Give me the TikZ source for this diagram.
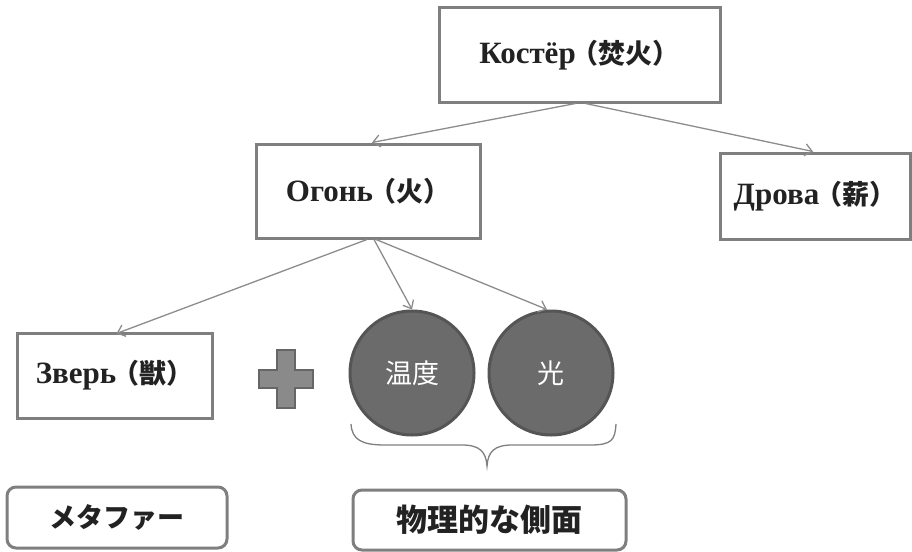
\documentclass[tikz,border=0pt]{standalone}
\usepackage{fontspec}
\setmainfont{Liberation Serif}
\newfontfamily\cjk{Noto Sans CJK JP}
\usetikzlibrary{arrows.meta}
\definecolor{boxgray}{HTML}{7F7F7F}
\definecolor{arrgray}{HTML}{8C8C8C}
\definecolor{circfill}{HTML}{6B6B6B}
\definecolor{circline}{HTML}{555555}
\definecolor{plusfill}{HTML}{8A8A8A}
\definecolor{txt}{HTML}{222222}
\newcommand{\cjkpart}[1]{{\fontsize{27}{30}\selectfont\cjk\bfseries #1}}
\tikzset{
  sqbox/.style={draw=boxgray, line width=3pt, fill=white, rectangle, inner sep=0pt,
    font=\fontsize{31}{34}\selectfont\bfseries, text=txt},
  rdbox/.style={draw=boxgray, line width=3pt, fill=white, rectangle, rounded corners=9pt, inner sep=0pt,
    font=\fontsize{29}{32}\selectfont\cjk\bfseries, text=txt},
  disc/.style={circle, draw=circline, line width=3pt, fill=circfill, minimum size=124pt, inner sep=0pt,
    text=white, font=\fontsize{27}{30}\selectfont\cjk},
  conn/.style={draw=arrgray, line width=1.3pt, -{Straight Barb[length=7pt,width=12pt,line width=1.3pt]}},
}
\begin{document}
\begin{tikzpicture}[x=1pt,y=-1pt]
\useasboundingbox (0,0) rectangle (912,551);
\node[sqbox, minimum width=281pt, minimum height=94pt] (kost) at (579.5,55) {Костёр\hspace{-4pt}\cjkpart{（焚火）}};
\node[sqbox, minimum width=224pt, minimum height=94pt] (ogon) at (368,191) {Огонь\hspace{-4pt}\cjkpart{（火）}};
\node[sqbox, minimum width=190pt, minimum height=86pt] (drova) at (815,196) {Дрова\hspace{-4pt}\cjkpart{（薪）}};
\node[sqbox, minimum width=195pt, minimum height=85pt] (zver) at (114.5,375.5) {Зверь\hspace{-4pt}\cjkpart{（獣）}};
\node[disc] (c1) at (412,373) {温度};
\node[disc] (c2) at (551,373) {光};
\node[rdbox, minimum width=220pt, minimum height=61pt, font=\fontsize{27}{30}\selectfont\cjk\bfseries] (meta) at (117,517.5) {メタファー};
\node[rdbox, minimum width=273pt, minimum height=60pt, font=\fontsize{31}{34}\selectfont\cjk\bfseries] (phys) at (489.5,520) {物理的な側面};
% plus sign
\coordinate (plus) at (286,379);
\filldraw[fill=plusfill, draw=boxgray!80!black, line width=1.2pt, shift={(plus)}]
  (-9,-29) -- (9,-29) -- (9,-9) -- (27,-9) -- (27,9) -- (9,9) -- (9,29) -- (-9,29)
  -- (-9,9) -- (-27,9) -- (-27,-9) -- (-9,-9) -- cycle;
% connectors
\draw[conn] ([xshift=-4pt]kost.south) -- ([xshift=4pt]ogon.north);
\draw[conn] ([xshift=6pt]kost.south) -- ([xshift=-2pt]drova.north);
\draw[conn] ([xshift=-1pt]ogon.south) -- ([xshift=2pt,yshift=-2pt]zver.north);
\draw[conn] ([xshift=6pt]ogon.south) -- (c1.north);
\draw[conn] ([xshift=8pt]ogon.south) -- ([xshift=-4pt]c2.north);
% brace
\coordinate (bl) at (351,424);
\coordinate (bt) at (487,466);
\coordinate (br) at (616,424);
\draw[draw=boxgray, line width=1.3pt]
  (bl) .. controls (352,440) and (362,445) .. (385,445) -- (462,445)
  .. controls (480,445) and (486,452) .. (bt)
  .. controls (488,452) and (494,445) .. (512,445) -- (590,445)
  .. controls (612,445) and (615,440) .. (br);
\end{tikzpicture}
\end{document}
